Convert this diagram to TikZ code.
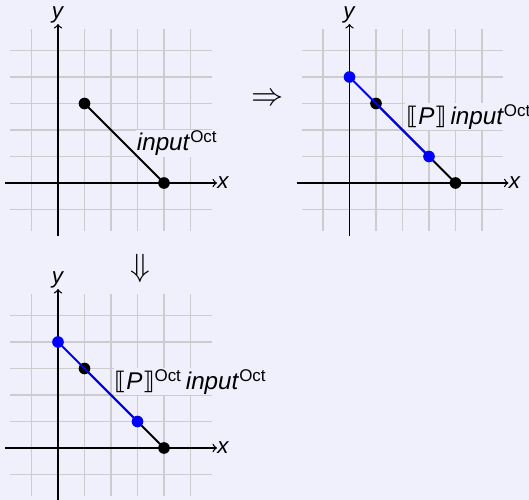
\documentclass[tikz,border=0pt]{standalone}
\usepackage{amsmath}
\usepackage{fontspec}
\setmainfont{Liberation Sans}
\newfontfamily\djv{DejaVu Sans}
\definecolor{bgc}{RGB}{240,240,252}
\definecolor{gridc}{RGB}{204,204,206}
\definecolor{ptblue}{RGB}{0,0,255}
\tikzset{
  gridline/.style={draw=gridc, line width=0.6pt},
  axisline/.style={draw=black, line width=0.7pt, ->},
  seg/.style={line width=1.1pt},
  dotblack/.style={fill=black},
  dotblue/.style={fill=ptblue},
  lab/.style={fill=bgc, inner sep=0.5pt, font=\fontsize{13}{15}\selectfont},
  axlab/.style={inner sep=0pt, font=\fontsize{12}{14}\selectfont},
  bigarrow/.style={inner sep=0pt, font=\fontsize{18}{20}\selectfont},
}
\newcommand{\plotframe}[1]{%
  \draw[gridline, step=0.5cm] (-1.8,-1.8) grid (5.8,5.8);
  \coordinate (#1xs) at (-2,0); \coordinate (#1xe) at (6,0);
  \coordinate (#1ys) at (0,-2); \coordinate (#1ye) at (0,6);
  \draw[axisline] (#1xs) -- (#1xe);
  \draw[axisline] (#1ys) -- (#1ye);
  \node[axlab, anchor=west] (#1xl) at (#1xe) {\textit{x}};
  \node[axlab, anchor=south] (#1yl) at (#1ye) {\textit{y}};
}
\newcommand{\dbl}{{\djv\char"27E6}}
\newcommand{\dbr}{{\djv\char"27E7}}
\begin{document}
\begin{tikzpicture}[x=0.5cm,y=0.5cm]
\fill[bgc] (-2.189,-11.962) rectangle (17.774,6.906);
\useasboundingbox (-2.189,-11.962) rectangle (17.774,6.906);
% plot 1
\begin{scope}
  \plotframe{a}
  \node[lab] (alab) at (4.5,1.5) {\textit{input}$^{\text{Oct}}$};
  \coordinate (a1) at (1,3); \coordinate (a2) at (4,0);
  \draw[seg] (a1) -- (a2);
  \fill[dotblack] (a1) circle (0.22); \fill[dotblack] (a2) circle (0.22);
\end{scope}
% plot 2
\begin{scope}[shift={(11,0)}]
  \plotframe{b}
  \node[lab] (blab) at (4.5,2.5) {\dbl\textit{P}\dbr\,\textit{input}$^{\text{Oct}}$};
  \coordinate (b1) at (1,3); \coordinate (b2) at (4,0);
  \coordinate (b3) at (0,4); \coordinate (b4) at (3,1);
  \draw[seg] (b1) -- (b2);
  \fill[dotblack] (b1) circle (0.22); \fill[dotblack] (b2) circle (0.22);
  \draw[seg, ptblue] (b3) -- (b4);
  \fill[dotblue] (b3) circle (0.22); \fill[dotblue] (b4) circle (0.22);
\end{scope}
% plot 3
\begin{scope}[shift={(0,-10)}]
  \plotframe{c}
  \node[lab] (clab) at (5,2.5) {\dbl\textit{P}\dbr$^{\text{Oct}}$\,\textit{input}$^{\text{Oct}}$};
  \coordinate (c1) at (1,3); \coordinate (c2) at (4,0);
  \coordinate (c3) at (0,4); \coordinate (c4) at (3,1);
  \draw[seg] (c1) -- (c2);
  \fill[dotblack] (c1) circle (0.22); \fill[dotblack] (c2) circle (0.22);
  \draw[seg, ptblue] (c3) -- (c4);
  \fill[dotblue] (c3) circle (0.22); \fill[dotblue] (c4) circle (0.22);
\end{scope}
\node[bigarrow] (rarr) at (7.92,3.13) {$\Rightarrow$};
\node[bigarrow] (darr) at (3.09,-3.21) {$\Downarrow$};
\end{tikzpicture}
\end{document}
